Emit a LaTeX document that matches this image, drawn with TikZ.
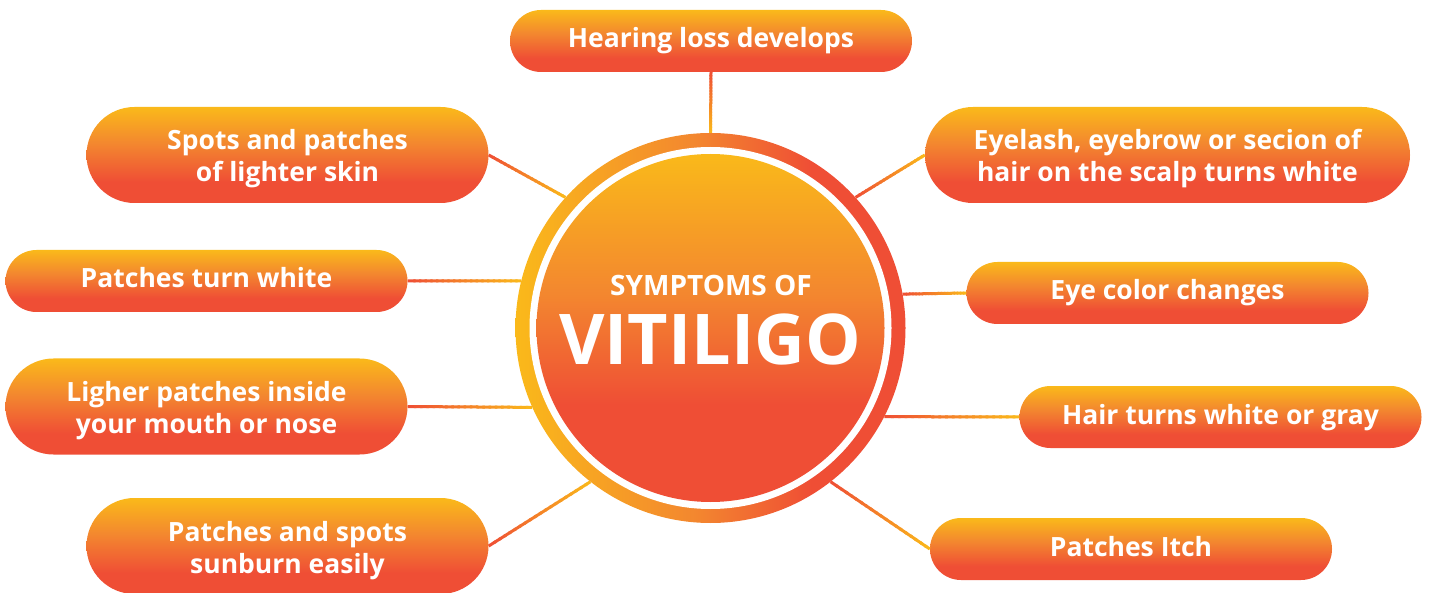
\documentclass[tikz,border=0pt]{standalone}
\usepackage{fontspec}
\setmainfont{Open Sans}
\usetikzlibrary{shapes.misc, calc}
\definecolor{tagyellow}{RGB}{250,185,26}
\definecolor{tagorange}{RGB}{243,135,47}
\definecolor{tagred}{RGB}{239,78,53}
\pgfdeclareverticalshading{tagshade}{100bp}{color(0bp)=(tagred); color(25bp)=(tagred);
  color(36bp)=(tagred); color(56bp)=(tagorange); color(75bp)=(tagyellow); color(100bp)=(tagyellow)}
\pgfdeclareverticalshading{hubshade}{100bp}{color(0bp)=(tagred); color(25bp)=(tagred);
  color(39bp)=(tagred); color(55bp)=(tagorange); color(75bp)=(tagyellow); color(100bp)=(tagyellow)}
\pgfdeclarehorizontalshading{ringshade}{100bp}{color(0bp)=(tagyellow); color(25bp)=(tagyellow);
  color(48bp)=(tagorange); color(63bp)=(tagred); color(100bp)=(tagred)}
\tikzset{
  tagbox/.style={rounded rectangle, shade, shading=tagshade, minimum width=402pt,
                 align=center, text=white, inner sep=0pt,
                 font=\bfseries\fontsize{26.5}{32}\selectfont},
  tagone/.style={tagbox, minimum height=62pt, text height=20pt, text depth=6pt},
  tagtwo/.style={tagbox, minimum height=96pt, text height=60pt, text depth=6pt},
  taglink/.style={line width=3pt},
  hubtext/.style={text=white, anchor=base, inner sep=0pt},
}
\newcommand{\gradlink}[2]{%
  \foreach \s in {0,...,19}{%
    \pgfmathsetmacro{\mix}{5*\s+2.5}%
    \pgfmathsetmacro{\upto}{min((\s+1.4)/20,1)}%
    \draw[taglink, draw=tagyellow!\mix!tagred] ($(#1)!\s/20!(#2)$) -- ($(#1)!\upto!(#2)$);
  }}

\begin{document}
\begin{tikzpicture}[x=1pt, y=-1pt]
  \useasboundingbox (0,0) rectangle (1429,593);
  \node[circle, shade, shading=ringshade, minimum size=390pt, inner sep=0pt] (ring) at (710.5,328) {};
  \node[circle, fill=white, minimum size=362pt, inner sep=0pt] (gap) at (ring.center) {};
  \node[circle, shade, shading=hubshade, minimum size=348pt, inner sep=0pt] (hub) at (ring.center) {};
  \node[hubtext, font=\bfseries\fontsize{28}{32}\selectfont] (title) at (711,296) {SYMPTOMS OF};
  \node[hubtext, font=\bfseries\fontsize{70}{72}\selectfont] (name) at (710,364) {VITILIGO};

  \node[tagone] (hearing) at (711,41) {Hearing loss develops};
  \node[tagtwo] (spots) at (287.5,155) {Spots and patches\\of lighter skin};
  \node[tagone] (white) at (206.5,281) {Patches turn white};
  \node[tagtwo] (mouth) at (206.5,406.5) {Ligher patches inside\\your mouth or nose};
  \node[tagtwo] (sunburn) at (287.5,546) {Patches and spots\\sunburn easily};
  \node[tagtwo, minimum width=485pt] (eyelash) at (1167.5,155) {Eyelash, eyebrow or secion of\\hair on the scalp turns white};
  \node[tagone] (eyecolor) at (1167.5,293) {Eye color changes};
  \node[tagone] (gray) at (1220.5,417) {Hair turns white or gray};
  \node[tagone] (itch) at (1131,549) {Patches Itch};

  \gradlink{hearing.south}{ring.north}
  \gradlink{spots.east}{ring.138}
  \gradlink{white.east}{ring.166}
  \gradlink{mouth.east}{ring.204}
  \gradlink{sunburn.east}{ring.232}
  \gradlink{ring.42}{eyelash.west}
  \gradlink{ring.10.5}{eyecolor.west}
  \gradlink{ring.333}{gray.west}
  \gradlink{ring.308}{itch.west}
\end{tikzpicture}
\end{document}
